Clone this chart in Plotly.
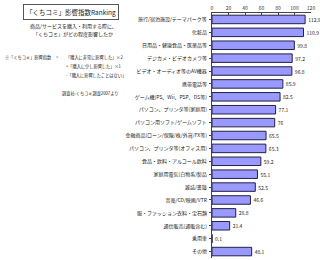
import plotly.graph_objects as go

categories = [
    "旅行/宿泊施設/テーマパーク等",
    "化粧品",
    "日用品・健康食品・医薬品等",
    "デジカメ・ビデオカメラ等",
    "ビデオ・オーディオ等のAV機器",
    "携帯電話等",
    "ゲーム機(PS、Wii、PSP、DS等)",
    "パソコン、プリンタ等(家庭用)",
    "パソコン用ソフト/ゲームソフト",
    "金融商品(ローン/保険/株/外貨/FX等)",
    "パソコン、プリンタ等(オフィス用)",
    "食品・飲料・アルコール飲料",
    "家庭用電気(白物系)製品",
    "雑誌/書籍",
    "音楽/CD/映画/VTR",
    "服・ファッション衣料・宝石類",
    "通信販売(通販含む)",
    "乗用車",
    "その他",
]
values = [112.9, 110.9, 99.8, 97.2, 96.8, 85.9, 82.5, 77.1, 76, 65.5, 65.3,
          59.2, 55.1, 52.5, 46.6, 28.8, 21.4, 0.1, 48.1]
tick_vals = [0, 20, 40, 60, 80, 100, 120]

FONT = "Noto Sans CJK JP"
W, H = 320, 260
ML, MR, MT, MB = 212, 9, 13, 2
PW, PH = W - ML - MR, H - MT - MB

fig = go.Figure(go.Bar(
    x=values, y=categories, orientation="h",
    marker=dict(color="#9999FF", line=dict(color="#222244", width=1)),
    text=[f"{v:g}" for v in values], textposition="outside",
    textfont=dict(size=5, color="#222", family=FONT),
    cliponaxis=False,
))

fig.update_layout(
    width=W, height=H,
    margin=dict(l=ML, r=MR, t=MT, b=MB, autoexpand=False),
    paper_bgcolor="white", plot_bgcolor="white",
    bargap=0.34, showlegend=False,
    font=dict(family=FONT, size=5, color="#222"),
    xaxis=dict(range=[0, 120], side="top", tickvals=tick_vals,
               showgrid=False, zeroline=False, showline=True,
               linecolor="#444", linewidth=1, ticks="inside", ticklen=2,
               tickcolor="#444", tickfont=dict(size=5, color="#333", family=FONT)),
    yaxis=dict(autorange="reversed", showgrid=False, showline=True,
               linecolor="#444", linewidth=1, ticks="outside", ticklen=2,
               tickcolor="#444", tickfont=dict(size=5, color="#222", family=FONT),
               ticksuffix=" "),
)

anns = [
    dict(x=71, y=12, text="「くちコミ」影響指数Ranking", size=6.5, border=True, anchor="center"),
    dict(x=73, y=26, text="商品/サービスを購入・利用する際に、", size=5, anchor="center"),
    dict(x=73, y=34, text="「くちコミ」がどの程度影響したか", size=5, anchor="center"),
    dict(x=3, y=57, text="※「くちコミ」影響指数", size=4.2, anchor="left"),
    dict(x=57, y=57, text="=", size=4.2, anchor="center"),
    dict(x=64, y=57, text="「購入に非常に影響した」×2", size=4.2, anchor="left"),
    dict(x=64, y=66, text="+「購入に少し影響した」×1", size=4.2, anchor="left"),
    dict(x=64, y=75, text="-「購入に影響したことはない」", size=4.2, anchor="left"),
    dict(x=90, y=94, text="調査社:くちコミ調査2007より", size=4.2, anchor="center"),
]
for a in anns:
    kw = dict(x=(a["x"] - ML) / PW, y=(H - MB - a["y"]) / PH,
              xref="paper", yref="paper",
              text=a["text"], showarrow=False, xanchor=a["anchor"], yanchor="middle",
              font=dict(size=a["size"], color="#222", family=FONT))
    if a.get("border"):
        kw.update(bordercolor="#555", borderwidth=1, borderpad=2, bgcolor="white")
    fig.add_annotation(**kw)

fig.write_html("out.html")
